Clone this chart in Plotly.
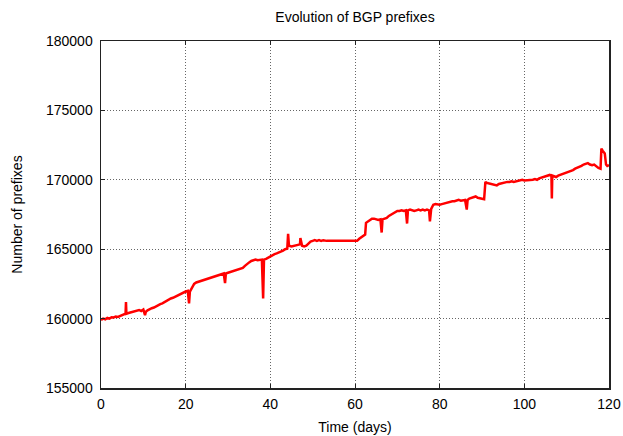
import plotly.graph_objects as go

days = [0.0, 0.5, 1.0, 1.5, 2.0, 2.5, 3.0, 3.5, 4.0, 4.5, 5.0, 5.5, 5.8, 5.9, 6.0, 6.5, 7.0, 7.5, 8.0, 8.5,
        9.0, 9.5, 10.0, 10.4, 10.6, 11.0, 11.5, 12.0, 12.5, 13.0, 13.5, 14.0, 14.5, 15.0, 15.5, 16.0, 16.5,
        17.0, 17.5, 18.0, 18.5, 19.0, 19.5, 20.0, 20.5, 20.8, 21.0, 21.5, 22.0, 22.5, 23.0, 23.5, 24.0, 24.5,
        25.0, 25.5, 26.0, 26.5, 27.0, 27.5, 28.0, 28.5, 29.0, 29.3, 29.5, 30.0, 30.5, 31.0, 31.5, 32.0, 32.5,
        33.0, 33.5, 34.0, 34.5, 35.0, 35.5, 36.0, 36.5, 37.0, 37.5, 38.0, 38.3, 38.5, 39.0, 39.5, 40.0, 40.5,
        41.0, 41.5, 42.0, 42.5, 43.0, 43.5, 44.0, 44.2, 44.4, 45.0, 45.5, 46.0, 46.5, 47.0, 47.1, 47.3, 47.5,
        48.0, 48.5, 49.0, 49.5, 50.0, 50.5, 51.0, 51.5, 52.0, 52.5, 53.3, 60.4, 60.5, 61.0, 61.5, 62.0, 62.4,
        62.6, 63.0, 63.5, 64.0, 64.5, 65.0, 65.5, 66.0, 66.3, 66.5, 67.0, 67.5, 68.0, 68.5, 69.0, 69.5, 70.0,
        70.5, 71.0, 71.5, 72.0, 72.3, 72.5, 73.0, 73.5, 74.0, 74.5, 75.0, 75.5, 76.0, 76.5, 77.0, 77.5, 77.7,
        78.0, 78.5, 79.0, 79.5, 80.0, 80.5, 81.0, 81.5, 82.0, 82.5, 83.0, 83.5, 84.0, 84.5, 85.0, 85.5, 86.0,
        86.4, 86.6, 87.0, 87.5, 88.0, 88.5, 89.0, 89.5, 90.0, 90.5, 90.8, 91.0, 91.5, 92.0, 92.5, 93.0, 93.5,
        94.0, 94.5, 95.0, 95.5, 96.0, 96.5, 97.0, 97.5, 98.0, 98.5, 99.0, 99.5, 100.0, 100.5, 101.0, 101.5,
        102.0, 102.5, 103.0, 103.5, 104.0, 104.5, 105.0, 105.5, 106.0, 106.4, 106.5, 106.6, 107.0, 107.5,
        108.0, 108.5, 109.0, 109.5, 110.0, 110.5, 111.0, 111.5, 112.0, 112.5, 113.0, 113.5, 114.0, 114.5,
        115.0, 115.5, 116.0, 116.5, 117.0, 117.5, 118.0, 118.2, 118.5, 119.0, 119.3, 119.6, 120.0]

prefixes = [159900, 160000, 159950, 160050, 160000, 160100, 160080, 160150, 160120, 160200, 160250, 160300,
            160350, 161200, 160350, 160400, 160450, 160500, 160550, 160600, 160620, 160550, 160650, 160250,
            160500, 160600, 160700, 160750, 160800, 160900, 160950, 161050, 161100, 161200, 161250, 161350,
            161450, 161500, 161580, 161650, 161700, 161800, 161850, 161950, 162000, 161100, 161950, 162200,
            162500, 162600, 162650, 162750, 162800, 162850, 162900, 162950, 163000, 163050, 163050, 163100,
            163150, 163200, 163250, 162550, 163250, 163300, 163350, 163400, 163450, 163450, 163500, 163550,
            163650, 163800, 163950, 164050, 164150, 164200, 164250, 164200, 164250, 164250, 161450, 164250,
            164300, 164400, 164500, 164600, 164650, 164700, 164750, 164800, 164900, 165000, 165050, 166100,
            165250, 165200, 165250, 165300, 165300, 165350, 165800, 165300, 165250, 165200, 165250, 165400,
            165550, 165600, 165650, 165600, 165650, 165600, 165650, 165600, 165550, 165600, 165750, 165850,
            165950, 166050, 166900, 167000, 167100, 167200, 167200, 167150, 167100, 167150, 166200, 167150,
            167200, 167250, 167400, 167500, 167600, 167700, 167750, 167750, 167800, 167750, 167800, 166850,
            167800, 167850, 167800, 167750, 167800, 167850, 167800, 167850, 167800, 167850, 167800, 167000,
            167900, 168200, 168250, 168200, 168200, 168250, 168300, 168300, 168350, 168400, 168450, 168450,
            168500, 168550, 168500, 168550, 168550, 167850, 168550, 168650, 168700, 168750, 168800, 168700,
            168650, 168600, 168600, 169850, 169800, 169750, 169700, 169650, 169650, 169600, 169700, 169750,
            169750, 169800, 169850, 169850, 169900, 169850, 169900, 169950, 169950, 170000, 169950, 169950,
            170000, 169950, 170000, 170050, 170000, 170100, 170150, 170200, 170250, 170300, 170350, 170300,
            168650, 170300, 170250, 170200, 170300, 170350, 170400, 170450, 170550, 170600, 170650, 170700,
            170800, 170850, 170950, 171000, 171100, 171150, 171200, 171100, 171050, 171100, 170950, 170850,
            170800, 172250, 172100, 171900, 171100, 171000, 171050]

x_ticks = [0, 20, 40, 60, 80, 100, 120]
y_ticks = [155000, 160000, 165000, 170000, 175000, 180000]

FONT = "Liberation Sans, Arial, Helvetica, sans-serif"
FIG_W, FIG_H = 623, 436

fig = go.Figure()
fig.add_trace(go.Scatter(x=days, y=prefixes, mode="lines",
                         line=dict(color="#ff0000", width=2.5), showlegend=False,
                         hoverinfo="skip"))

axis_common = dict(
    showline=True, linecolor="#222222", linewidth=1.5, mirror="ticks",
    ticks="inside", ticklen=4, tickcolor="#222222", tickwidth=1,
    showgrid=True, gridcolor="#666666", gridwidth=1, griddash="1px,2px",
    zeroline=False, automargin=False,
    tickfont=dict(family=FONT, size=14, color="black"),
)

fig.update_layout(
    width=FIG_W, height=FIG_H,
    margin=dict(l=101, r=14, t=41, b=48),
    paper_bgcolor="white", plot_bgcolor="white",
    font=dict(family=FONT, size=14, color="black"),
    hovermode=False,
    title=dict(text="Evolution of BGP prefixes", x=0.5, xref="paper", xanchor="center",
               y=1 - 17 / FIG_H, yref="container", yanchor="middle",
               font=dict(family=FONT, size=14, color="black")),
    xaxis=dict(range=[0, 120], tickvals=x_ticks, ticktext=[str(v) for v in x_ticks],
               ticklabelstandoff=3,
               title=dict(text="Time (days)", standoff=11, font=dict(family=FONT, size=14)),
               **axis_common),
    yaxis=dict(range=[155000, 180000], tickvals=y_ticks, ticktext=[str(v) for v in y_ticks],
               ticklabelstandoff=4,
               title=dict(text="Number of prefixes", standoff=20, font=dict(family=FONT, size=14)),
               **axis_common),
)

fig.write_html(
    "out.html",
    config={"displayModeBar": False, "staticPlot": True},
    post_script="document.body.style.margin='0';document.body.style.overflow='hidden';",
)
